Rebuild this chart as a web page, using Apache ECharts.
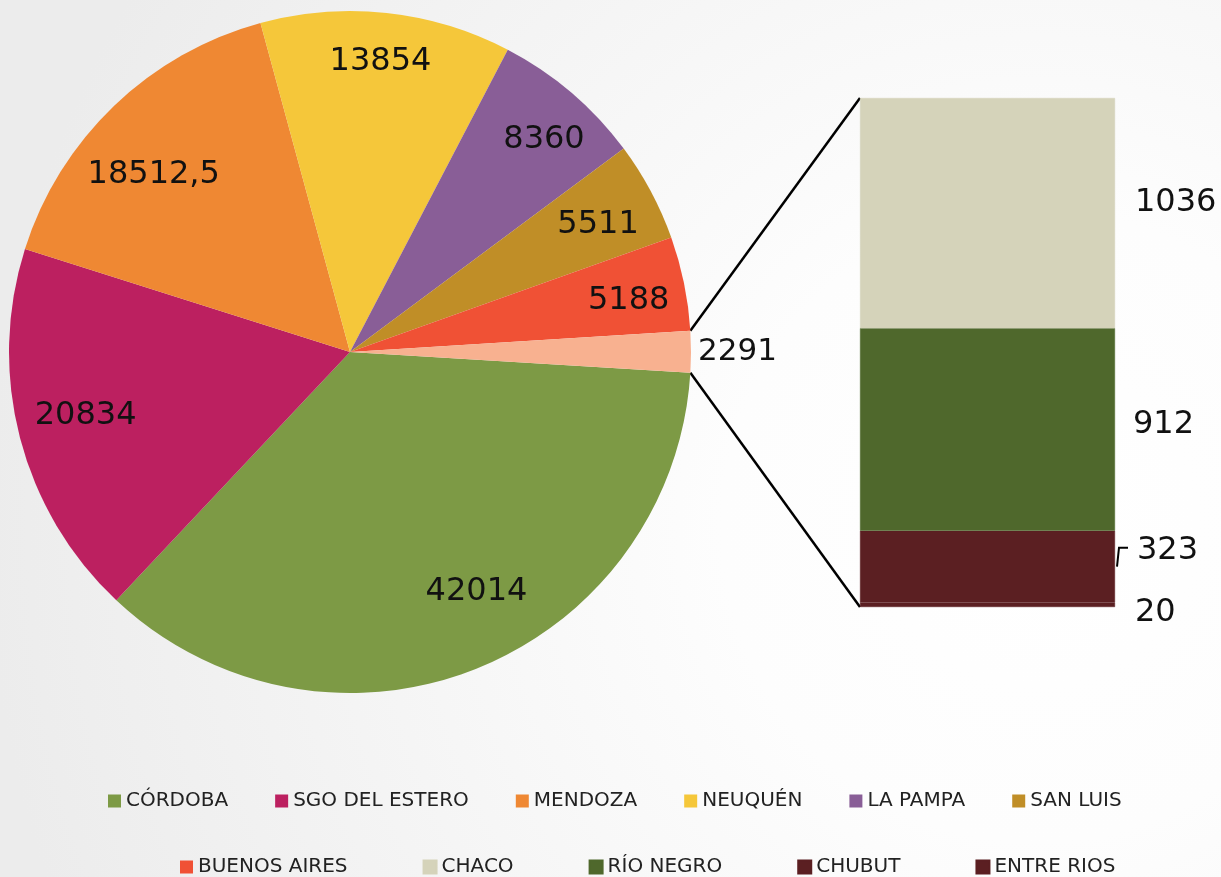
<!DOCTYPE html>
<html>
<head>
<meta charset="utf-8">
<script src="https://cdn.jsdelivr.net/npm/echarts@6/dist/echarts.min.js"></script>
<style>
  html, body { margin: 0; padding: 0; }
  #main { width: 1221px; height: 877px; }
</style>
</head>
<body>
<div id="main"></div>
<script>
// datos del grafico
var pieNames = ['CÓRDOBA', 'SGO DEL ESTERO', 'MENDOZA', 'NEUQUÉN', 'LA PAMPA', 'SAN LUIS', 'BUENOS AIRES']
var pieValues = [42014, 20834, 18512.5, 13854, 8360, 5511, 5188]
var barNames = ['CHACO', 'RÍO NEGRO', 'CHUBUT', 'ENTRE RIOS']
var barValues = [1036, 912, 323, 20]
var otherName = 'OTROS'

// estilos
var pieColors = ['#7D9A45', '#BC2060', '#EF8833', '#F5C73A', '#895E97', '#C08E27', '#F05135']
var otherColor = '#F8B190'
var barColors = ['#D5D3BA', '#4F682C', '#5B1F22', '#5B1F22']
var pieLabelOffsets = [[22, -24], [10, -8], [0, 27], [0, -8], [10, 3], [-2, 6], [1, 6]]
var barLabelOffsets = [[0, -10], [-2, -5], [2, -16], [0, 8]]

var font = 'DejaVu Sans'
var cx = 350, cy = 352, R = 341
var startAngle = -3.5
var gLeft = 860, gTop = 98, gW = 255, gH = 509

var otherValue = barValues.reduce((a, b) => a + b, 0)
var total = pieValues.reduce((a, b) => a + b, 0) + otherValue

function fmt (v) {
  return String(v).replace('.', ',')
}

var pieData = []
pieNames.forEach((n, i) => {
  pieData.push({ name: n, value: pieValues[i], itemStyle: { color: pieColors[i] } })
})
pieData.push({
  name: otherName,
  value: otherValue,
  itemStyle: { color: otherColor },
  label: { show: true, position: 'outside', color: '#111', fontSize: 31, fontFamily: font, formatter: p => fmt(p.value) },
  labelLine: { show: false, length: 2, length2: 0 }
})

// capa transparente solo para ubicar las etiquetas
var labelData = pieData.map((d, i) => ({
  name: d.name,
  value: d.value,
  label: i < pieNames.length ? { show: true, offset: pieLabelOffsets[i] } : { show: false }
}))

// series de la barra (de abajo hacia arriba)
var barSeries = []
for (var i = barNames.length - 1; i >= 0; i--) {
  barSeries.push({
    name: barNames[i],
    type: 'bar',
    stack: 'otros',
    barWidth: '100%',
    itemStyle: { color: barColors[i], borderColor: barColors[i], borderWidth: 0.5 },
    label: {
      show: true,
      position: 'right',
      distance: 20,
      offset: barLabelOffsets[i],
      color: '#111',
      fontSize: 32,
      fontFamily: font,
      formatter: p => fmt(p.value)
    },
    data: [barValues[i]]
  })
}

// lineas de conexion
var a1 = (startAngle + 360 * otherValue / total) * Math.PI / 180
var a2 = startAngle * Math.PI / 180
var p1 = [cx + R * Math.cos(a1), cy - R * Math.sin(a1)]
var p2 = [cx + R * Math.cos(a2), cy - R * Math.sin(a2)]
function yOf (v) { return gTop + gH * (1 - v / otherValue) }
var chubutMid = yOf(barValues[3] + barValues[2] / 2)

var legendText = { fontSize: 20, color: '#222', fontFamily: font }

var myChart = echarts.init(document.getElementById('main'))
myChart.setOption({
  animation: false,
  backgroundColor: new echarts.graphic.RadialGradient(0.85, 0.6, 1.2, [
    { offset: 0, color: '#ffffff' },
    { offset: 0.3, color: '#fdfdfd' },
    { offset: 1, color: '#ececec' }
  ]),
  textStyle: { fontFamily: font },
  legend: [{
    data: pieNames.slice(0, 6),
    left: 108,
    top: 791,
    padding: 0,
    itemGap: 47,
    itemWidth: 13,
    itemHeight: 13,
    icon: 'rect',
    textStyle: legendText
  }, {
    data: [pieNames[6]].concat(barNames),
    left: 180,
    top: 857,
    padding: 0,
    itemGap: 75,
    itemWidth: 13,
    itemHeight: 13,
    icon: 'rect',
    textStyle: legendText
  }],
  grid: { left: gLeft, top: gTop, width: gW, height: gH },
  xAxis: { type: 'category', data: ['otros'], show: false },
  yAxis: { type: 'value', min: 0, max: otherValue, show: false },
  series: [{
    type: 'pie',
    center: [cx, cy],
    radius: [0, R],
    startAngle: startAngle,
    clockwise: true,
    label: { show: false },
    labelLine: { show: false },
    emphasis: { disabled: true },
    data: pieData
  }, {
    type: 'pie',
    center: [cx, cy],
    radius: [220, R],
    startAngle: startAngle,
    clockwise: true,
    silent: true,
    itemStyle: { color: 'rgba(0,0,0,0)' },
    label: { position: 'inside', color: '#111', fontSize: 32, fontFamily: font, formatter: p => fmt(p.value) },
    labelLine: { show: false },
    data: labelData
  }].concat(barSeries),
  graphic: [{
    type: 'line',
    shape: { x1: p1[0], y1: p1[1], x2: gLeft, y2: gTop },
    style: { stroke: '#000', lineWidth: 2.5 }
  }, {
    type: 'line',
    shape: { x1: p2[0], y1: p2[1], x2: gLeft, y2: gTop + gH },
    style: { stroke: '#000', lineWidth: 2.5 }
  }, {
    type: 'polyline',
    shape: { points: [[gLeft + gW + 2, chubutMid], [gLeft + gW + 4, chubutMid - 19], [gLeft + gW + 13, chubutMid - 19]] },
    style: { stroke: '#000', lineWidth: 2, fill: null }
  }]
})
</script>
</body>
</html>
